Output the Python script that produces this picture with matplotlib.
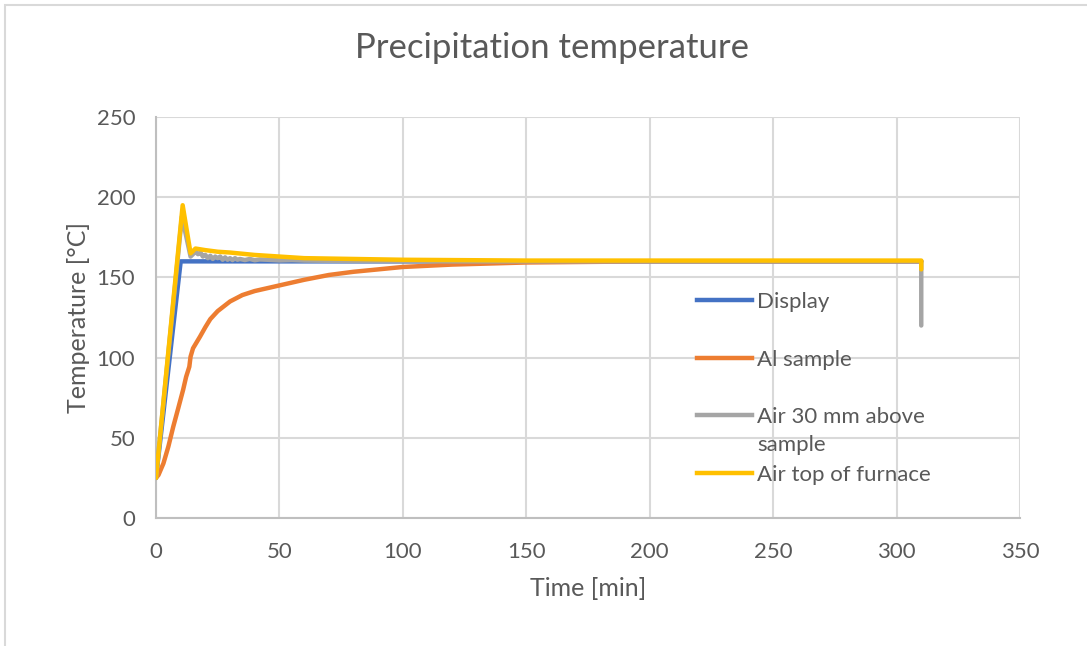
import matplotlib
matplotlib.use("Agg")
import matplotlib.pyplot as plt
from matplotlib.lines import Line2D
from matplotlib.patches import Rectangle

plt.rcParams['font.family'] = ['Lato', 'DejaVu Sans']

# Series data: time [min] and temperature [°C]
display_t = [0, 10, 310]
display_T = [25, 160, 160]

al_t = [0, 1, 3, 5, 7, 9, 11, 12.2, 13.5, 14, 15, 17.8, 20, 22, 25, 30, 35, 40, 50, 60, 70, 80,
        100, 120, 150, 200, 250, 310]
al_T = [25, 26.8, 34, 44.5, 57, 68.4, 80, 88, 94.3, 100.6, 105.8, 113, 119, 124, 129, 135, 139,
        141.5, 145, 148.5, 151.5, 153.5, 156.5, 158, 159.3, 160, 160, 160]

air30_t = [0, 10.5, 14, 16, 17, 18, 19, 20, 21, 22, 23, 24, 25, 26, 27, 28, 29, 30, 31, 32, 33,
           34, 36, 38, 40, 42, 45, 50, 55, 60, 80, 120, 200, 310, 310]
air30_T = [25, 188, 163, 166, 164.5, 165.5, 163, 164, 162, 163.5, 161.5, 163, 162, 163, 161, 162.5,
           161, 162, 160.8, 162, 161, 161.5, 160.8, 161.5, 160.7, 161.2, 161, 160.6, 160.8, 160.5,
           160.2, 160, 160, 160, 120]

airtop_t = [0, 10.8, 14, 16, 20, 25, 30, 40, 50, 60, 80, 100, 150, 200, 310, 310]
airtop_T = [25, 195, 165, 168, 167, 166, 165.5, 164, 163, 162, 161.5, 161, 160.5, 160.5, 160.5, 155]

labels = ["Display", "Al sample", "Air 30 mm above\nsample", "Air top of furnace"]
colors = ["#4472C4", "#ED7D31", "#A5A5A5", "#FFC000"]

x_ticks = [0, 50, 100, 150, 200, 250, 300, 350]
y_ticks = [0, 50, 100, 150, 200, 250]

text_color = "#595959"
grid_color = "#D9D9D9"

W, H = 1087, 646
fig = plt.figure(figsize=(W / 100, H / 100), dpi=100)
fig.patch.set_facecolor("white")

# outer chart border (left and top edges visible)
fig.add_artist(Rectangle((5 / W, -0.05), 1.2, 1 - 5 / H + 0.05, transform=fig.transFigure,
                         fill=False, edgecolor="#D9D9D9", linewidth=1.5))

ax = fig.add_axes([156 / W, 1 - 518 / H, (1020 - 156) / W, (518 - 117) / H])

series = [(display_t, display_T), (al_t, al_T), (air30_t, air30_T), (airtop_t, airtop_T)]
for (t, T), c in zip(series, colors):
    ax.plot(t, T, color=c, linewidth=3.2, solid_capstyle="round", solid_joinstyle="round", zorder=3)

ax.set_xlim(0, 350)
ax.set_ylim(0, 250)
ax.set_xticks(x_ticks)
ax.set_yticks(y_ticks)
ax.grid(True, color=grid_color, linewidth=1.5, zorder=0)
ax.set_axisbelow(True)
for side in ["top", "right"]:
    ax.spines[side].set_visible(False)
for side in ["left", "bottom"]:
    ax.spines[side].set_color("#BFBFBF")
    ax.spines[side].set_linewidth(1.5)
ax.tick_params(axis="y", length=0, labelsize=16, labelcolor=text_color, pad=15)
ax.tick_params(axis="x", length=0, labelsize=16, labelcolor=text_color, pad=17)

ax.set_xlabel("Time [min]", fontsize=18, color=text_color, labelpad=11)
ax.set_ylabel("Temperature [°C]", fontsize=18, color=text_color, labelpad=5)
fig.text(552 / W, 1 - 48 / H, "Precipitation temperature", ha="center", va="center",
         fontsize=25, color=text_color)

# legend entries, line sample followed by label
legend_y = [300, 358, 415, 473]
for y, lab, c in zip(legend_y, labels, colors):
    fig.add_artist(Line2D([697 / W, 752 / W], [1 - y / H, 1 - y / H], transform=fig.transFigure,
                          color=c, linewidth=3.2))
    fig.text(757 / W, 1 - (y - 8) / H, lab, ha="left", va="top", fontsize=16,
             color=text_color, linespacing=1.5)

fig.savefig("out.png", dpi=100)
